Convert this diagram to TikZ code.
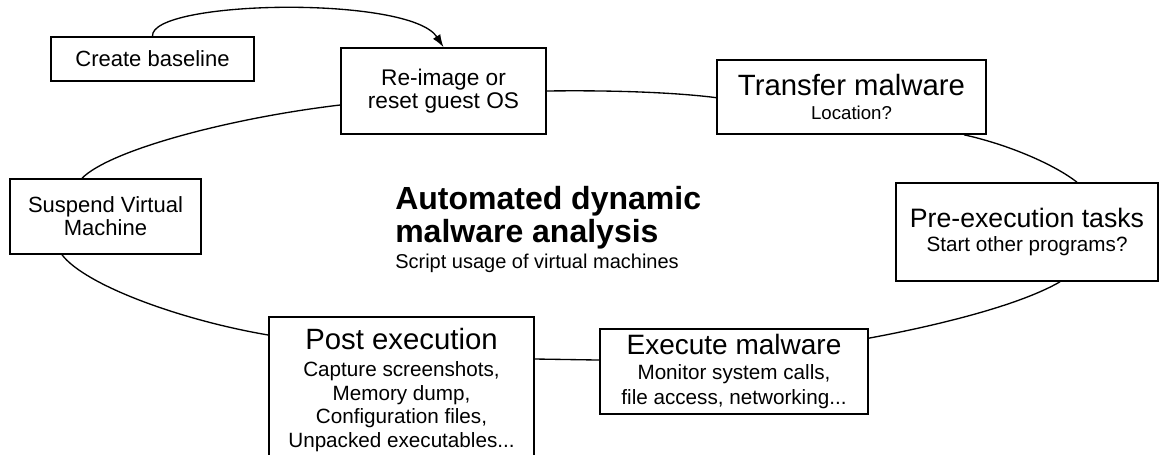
\documentclass[tikz,border=0pt]{standalone}
\usepackage{fontspec}
\setmainfont{Liberation Sans}
\usetikzlibrary{arrows.meta}
\newcommand\fsz[2]{\fontsize{#1pt}{#2pt}\selectfont}
\tikzset{
  box/.style={draw, line width=1.2pt, rectangle, inner sep=0pt, align=center, text=black},
  link/.style={draw, line width=1pt},
}
\begin{document}
\begin{tikzpicture}[x=0.75pt,y=-0.75pt]
\useasboundingbox (0,0) rectangle (1159,454);
\fill[white] (0,0) rectangle (1159,454);
\clip (0,0) rectangle (1159,454);

\node[box, minimum width=152.25pt, minimum height=33pt, font=\fsz{16.5}{20}] (base) at (152.5,59)
  {Create baseline};
\node[box, minimum width=153.75pt, minimum height=64.5pt, font=\fsz{17}{17.25}] (reimg) at (443.5,91)
  {Re-image or\\reset guest OS};
\node[box, minimum width=201.75pt, minimum height=55.5pt, font=\fsz{14}{18}] (transfer) at (851.5,97)
  {\fsz{22}{18}Transfer malware\\Location?};
\node[box, minimum width=196.5pt, minimum height=73.5pt, font=\fsz{15.5}{18}] (pre) at (1027,232)
  {\fsz{20}{18}Pre-execution tasks\\Start other programs?};
\node[box, minimum width=201pt, minimum height=63.75pt, font=\fsz{15.5}{18.75}] (exec) at (734,371.5)
  {\fsz{21}{18.75}Execute malware\\Monitor system calls,\\file access, networking...};
\node[box, minimum width=198.75pt, minimum height=109.5pt, font=\fsz{15.5}{17.6}] (post) at (401.5,390)
  {\fsz{22}{17.6}Post execution\\[2.65pt]Capture screenshots,\\Memory dump,\\Configuration files,\\Unpacked executables...};
\node[box, minimum width=143.25pt, minimum height=56.25pt, font=\fsz{16.5}{17.25}] (suspend) at (105.5,216.5)
  {Suspend Virtual\\Machine};

\node[anchor=base west, inner sep=0pt, align=left, font=\fsz{24}{24.75}\bfseries] (title) at (395,242)
  {Automated dynamic\\malware analysis};
\node[anchor=base west, inner sep=0pt, font=\fsz{15}{15}] (subtitle) at (395,268)
  {Script usage of virtual machines};

% connectors
\draw[link, -{Latex[length=9.5pt,width=6.5pt]}] (base.north) .. controls (150,0) and (410,-5) .. (reimg.north);
\draw[link] ([yshift=-10.5pt]reimg.west) .. controls (230,118) and (110,150) .. ([xshift=-17.6pt]suspend.north);
\draw[link] (reimg.east) .. controls (620,90) and (680,93) .. ([yshift=-0.5pt]transfer.west);
\draw[link] ([xshift=84.4pt]transfer.south) .. controls (1010,145) and (1055,165) .. ([xshift=37.5pt]pre.north);
\draw[link] ([xshift=24.75pt]pre.south) .. controls (1020,305) and (940,325) .. ([yshift=25pt]exec.east);
\draw[link] ([yshift=23.25pt]post.east) -- ([yshift=8.6pt]exec.west);
\draw[link] ([yshift=41.25pt]post.west) .. controls (180,320) and (85,285) .. ([xshift=-32.6pt]suspend.south);
\end{tikzpicture}
\end{document}
